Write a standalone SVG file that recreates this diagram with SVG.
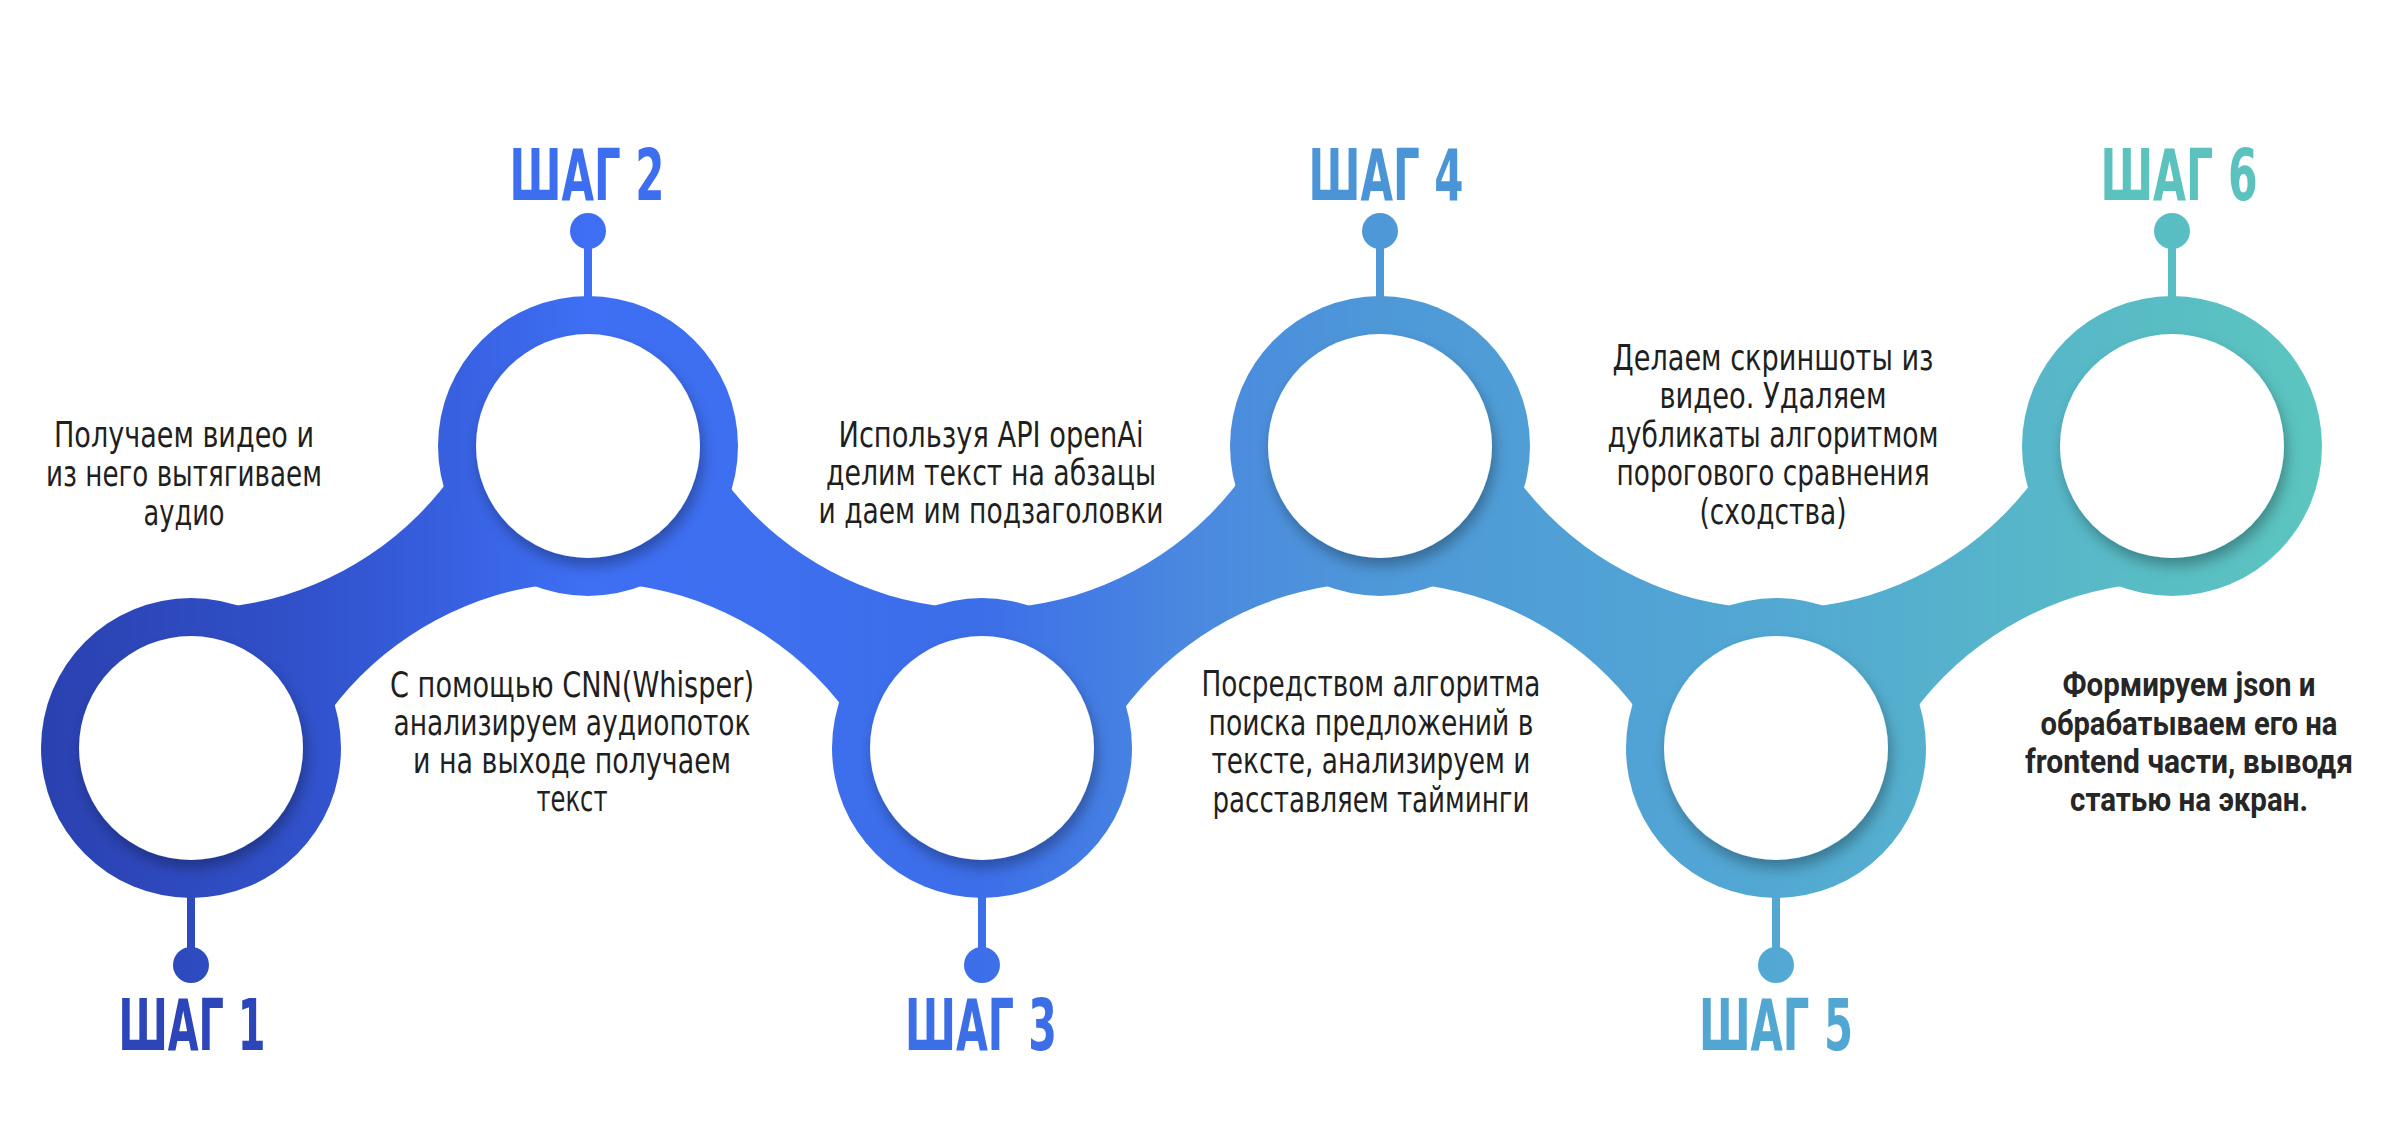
<svg xmlns="http://www.w3.org/2000/svg" width="2385" height="1133" viewBox="0 0 2385 1133">
  <defs>
    <linearGradient id="g" gradientUnits="userSpaceOnUse" x1="40" y1="0" x2="2330" y2="0">
      <stop offset="0" stop-color="#2a41b0"/>
      <stop offset="0.12" stop-color="#3152cc"/>
      <stop offset="0.24" stop-color="#3e6ff4"/>
      <stop offset="0.41" stop-color="#3c6ee9"/>
      <stop offset="0.5" stop-color="#4a88e0"/>
      <stop offset="0.585" stop-color="#4e98d8"/>
      <stop offset="0.755" stop-color="#52a8d3"/>
      <stop offset="1" stop-color="#5cc6be"/>
    </linearGradient>
    <mask id="bandMask" maskUnits="userSpaceOnUse" x="0" y="0" width="2385" height="1133">
      <rect x="0" y="0" width="2385" height="1133" fill="#fff"/>
      <circle cx="191" cy="287" r="322" fill="#000"/>
      <circle cx="982" cy="287" r="322" fill="#000"/>
      <circle cx="1776" cy="287" r="322" fill="#000"/>
      <circle cx="588" cy="904" r="322" fill="#000"/>
      <circle cx="1380" cy="904" r="322" fill="#000"/>
      <circle cx="2172" cy="904" r="322" fill="#000"/>
    </mask>
    <filter id="sh" x="-30%" y="-30%" width="160%" height="160%">
      <feDropShadow dx="3" dy="8" stdDeviation="7" flood-color="#000" flood-opacity="0.3"/>
    </filter>
  </defs>
  <style>
    .ring { fill: url(#g); }
    .hole { fill: #ffffff; filter: url(#sh); }
    .stem { stroke: url(#g); stroke-width: 8; }
    .dot { fill: url(#g); }
    .lbl { font-family: "Liberation Sans Narrow", "DejaVu Sans Condensed", "Liberation Sans", sans-serif; font-weight: bold; font-size: 71px; text-anchor: middle; }
    .txt { font-family: "Liberation Sans Narrow", "DejaVu Sans Condensed", "Liberation Sans", sans-serif; font-size: 36px; fill: #1f1f1f; text-anchor: middle; }
    .txtb { font-family: "Roboto", "Liberation Sans", sans-serif; font-weight: bold; font-size: 34px; fill: #262626; text-anchor: middle; }
  </style>
  <rect width="2385" height="1133" fill="#ffffff"/>

  <g id="connectors">
    <rect x="191" y="446" width="1981" height="302" fill="url(#g)" mask="url(#bandMask)"/>
  </g>

  <g id="step1">
    <line class="stem" x1="191" y1="890" x2="191" y2="965"/>
    <circle class="dot" cx="191" cy="965" r="18"/>
    <circle class="ring" cx="191" cy="748" r="150"/>
    <circle class="hole" cx="191" cy="748" r="112"/>
    <text class="lbl" x="192" y="1050" fill="#2c45b8" textLength="147" lengthAdjust="spacingAndGlyphs">ШАГ 1</text>
    <text class="txt" x="184" y="447" textLength="260" lengthAdjust="spacingAndGlyphs">Получаем видео и</text>
    <text class="txt" x="184" y="486" textLength="276" lengthAdjust="spacingAndGlyphs">из него вытягиваем</text>
    <text class="txt" x="184" y="525" textLength="81" lengthAdjust="spacingAndGlyphs">аудио</text>
  </g>

  <g id="step2">
    <line class="stem" x1="588" y1="231" x2="588" y2="305"/>
    <circle class="dot" cx="588" cy="231" r="18"/>
    <circle class="ring" cx="588" cy="446" r="150"/>
    <circle class="hole" cx="588" cy="446" r="112"/>
    <text class="lbl" x="587" y="200" fill="#3d6ef0" textLength="155" lengthAdjust="spacingAndGlyphs">ШАГ 2</text>
    <text class="txt" x="572" y="697" textLength="364" lengthAdjust="spacingAndGlyphs">С помощью CNN(Whisper)</text>
    <text class="txt" x="572" y="735" textLength="357" lengthAdjust="spacingAndGlyphs">анализируем аудиопоток</text>
    <text class="txt" x="572" y="773" textLength="318" lengthAdjust="spacingAndGlyphs">и на выходе получаем</text>
    <text class="txt" x="572" y="811" textLength="71" lengthAdjust="spacingAndGlyphs">текст</text>
  </g>

  <g id="step3">
    <line class="stem" x1="982" y1="890" x2="982" y2="965"/>
    <circle class="dot" cx="982" cy="965" r="18"/>
    <circle class="ring" cx="982" cy="748" r="150"/>
    <circle class="hole" cx="982" cy="748" r="112"/>
    <text class="lbl" x="981" y="1050" fill="#3c6ee8" textLength="152" lengthAdjust="spacingAndGlyphs">ШАГ 3</text>
    <text class="txt" x="991" y="447" textLength="305" lengthAdjust="spacingAndGlyphs">Используя API openAi</text>
    <text class="txt" x="991" y="485" textLength="330" lengthAdjust="spacingAndGlyphs">делим текст на абзацы</text>
    <text class="txt" x="991" y="523" textLength="345" lengthAdjust="spacingAndGlyphs">и даем им подзаголовки</text>
  </g>

  <g id="step4">
    <line class="stem" x1="1380" y1="231" x2="1380" y2="305"/>
    <circle class="dot" cx="1380" cy="231" r="18"/>
    <circle class="ring" cx="1380" cy="446" r="150"/>
    <circle class="hole" cx="1380" cy="446" r="112"/>
    <text class="lbl" x="1386" y="200" fill="#4b95d6" textLength="155" lengthAdjust="spacingAndGlyphs">ШАГ 4</text>
    <text class="txt" x="1371" y="696" textLength="339" lengthAdjust="spacingAndGlyphs">Посредством алгоритма</text>
    <text class="txt" x="1371" y="735" textLength="325" lengthAdjust="spacingAndGlyphs">поиска предложений в</text>
    <text class="txt" x="1371" y="773" textLength="319" lengthAdjust="spacingAndGlyphs">тексте, анализируем и</text>
    <text class="txt" x="1371" y="812" textLength="317" lengthAdjust="spacingAndGlyphs">расставляем тайминги</text>
  </g>

  <g id="step5">
    <line class="stem" x1="1776" y1="890" x2="1776" y2="965"/>
    <circle class="dot" cx="1776" cy="965" r="18"/>
    <circle class="ring" cx="1776" cy="748" r="150"/>
    <circle class="hole" cx="1776" cy="748" r="112"/>
    <text class="lbl" x="1776" y="1050" fill="#52a6d2" textLength="154" lengthAdjust="spacingAndGlyphs">ШАГ 5</text>
    <text class="txt" x="1773" y="370" textLength="321" lengthAdjust="spacingAndGlyphs">Делаем скриншоты из</text>
    <text class="txt" x="1773" y="408" textLength="227" lengthAdjust="spacingAndGlyphs">видео. Удаляем</text>
    <text class="txt" x="1773" y="447" textLength="331" lengthAdjust="spacingAndGlyphs">дубликаты алгоритмом</text>
    <text class="txt" x="1773" y="485" textLength="313" lengthAdjust="spacingAndGlyphs">порогового сравнения</text>
    <text class="txt" x="1773" y="524" textLength="147" lengthAdjust="spacingAndGlyphs">(сходства)</text>
  </g>

  <g id="step6">
    <line class="stem" x1="2172" y1="231" x2="2172" y2="305"/>
    <circle class="dot" cx="2172" cy="231" r="18"/>
    <circle class="ring" cx="2172" cy="446" r="150"/>
    <circle class="hole" cx="2172" cy="446" r="112"/>
    <text class="lbl" x="2179" y="200" fill="#5cc2be" textLength="157" lengthAdjust="spacingAndGlyphs">ШАГ 6</text>
    <text class="txtb" x="2189" y="696" textLength="253" lengthAdjust="spacingAndGlyphs">Формируем json и</text>
    <text class="txtb" x="2189" y="735" textLength="297" lengthAdjust="spacingAndGlyphs">обрабатываем его на</text>
    <text class="txtb" x="2189" y="773" textLength="328" lengthAdjust="spacingAndGlyphs">frontend части, выводя</text>
    <text class="txtb" x="2189" y="811" textLength="238" lengthAdjust="spacingAndGlyphs">статью на экран.</text>
  </g>
</svg>
